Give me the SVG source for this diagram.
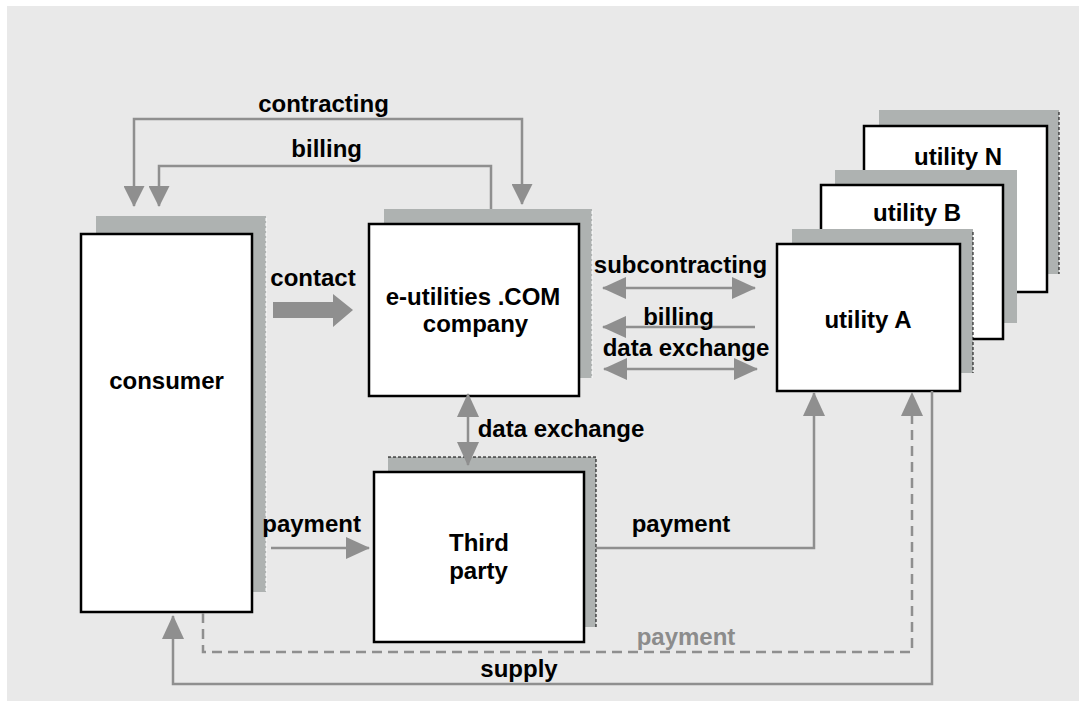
<svg xmlns="http://www.w3.org/2000/svg" width="1079" height="701" viewBox="0 0 1079 701">
<style>
.bg{fill:#e9e9e9}
.sh{fill:#aeb2b1}
.dw{fill:none;stroke:#ffffff;stroke-width:1;stroke-dasharray:3 2}
.db{fill:none;stroke:#000000;stroke-width:1;stroke-dasharray:3 2}
.box{fill:#ffffff;stroke:#000000;stroke-width:2.5}
.t{font-family:"Liberation Sans",Arial,sans-serif;font-weight:bold;font-size:24px;fill:#000000;text-anchor:middle}
.tg{fill:#8c8c8c}
.ln{fill:none;stroke:#8f8f8f;stroke-width:2.5}
.dash{stroke-dasharray:10 6}
</style>
<defs>
<marker id="ah" viewBox="0 0 24 22" refX="23" refY="11" markerWidth="24" markerHeight="22" markerUnits="userSpaceOnUse" orient="auto-start-reverse">
<path d="M0,0 L24,11 L0,22 z" fill="#8f8f8f"/>
</marker>
<marker id="ahs" viewBox="0 0 21 21" refX="20" refY="10.5" markerWidth="21" markerHeight="21" markerUnits="userSpaceOnUse" orient="auto-start-reverse">
<path d="M0,0 L21,10.5 L0,21 z" fill="#8f8f8f"/>
</marker>
</defs>
<rect x="0" y="0" width="1079" height="701" fill="#ffffff"/>
<rect class="bg" x="7" y="6" width="1072" height="695"/>

<g id="utility-N">
<rect class="sh" x="879" y="110" width="180" height="164"/>
<path class="db" d="M1059,112 V274"/>
<rect class="box" x="864" y="126" width="183" height="166"/>
<text class="t" x="958" y="165">utility N</text>
</g>
<g id="utility-B">
<rect class="sh" x="835" y="170" width="182" height="153"/>
<rect class="box" x="821" y="185" width="182" height="154"/>
<text class="t" x="917" y="221">utility B</text>
</g>
<g id="utility-A">
<rect class="sh" x="792" y="229" width="181" height="144"/>
<path class="db" d="M973,232 V373"/>
<rect class="box" x="777" y="244" width="183" height="147"/>
<text class="t" x="868" y="328">utility A</text>
</g>
<g id="consumer">
<rect class="sh" x="96" y="216" width="170" height="376"/>
<path class="dw" d="M266,218 V592"/>
<rect class="box" x="81" y="234" width="171" height="378"/>
<text class="t" x="166.5" y="389">consumer</text>
</g>
<g id="e-utilities">
<rect class="sh" x="384" y="209" width="208" height="169"/>
<path class="dw" d="M592,211 V378"/>
<rect class="box" x="369" y="224" width="210" height="172"/>
<text class="t" x="473" y="305">e-utilities .COM</text>
<text class="t" x="475.5" y="332">company</text>
</g>
<g id="third-party">
<rect class="sh" x="388" y="457" width="208" height="170"/>
<path class="db" d="M388,457 H596 V627"/>
<rect class="box" x="374" y="472" width="210" height="170"/>
<text class="t" x="479" y="551">Third</text>
<text class="t" x="478.5" y="579">party</text>
</g>

<g id="connectors">
<path class="ln" d="M522,204 V119 H134 V206" marker-start="url(#ahs)" marker-end="url(#ahs)"/>
<path class="ln" d="M491,209 V166 H159 V206" marker-end="url(#ahs)"/>
<polygon points="273,302 333,302 333,294 353,310 333,327 333,318 273,318" fill="#8f8f8f"/>
<path class="ln" d="M603,288 H755" marker-start="url(#ah)" marker-end="url(#ah)"/>
<path class="ln" d="M755,327 H603" marker-end="url(#ah)"/>
<path class="ln" d="M604,369 H757" marker-start="url(#ah)" marker-end="url(#ah)"/>
<path class="ln" d="M468,394 V465" marker-start="url(#ah)" marker-end="url(#ah)"/>
<path class="ln" d="M271,548 H369" marker-end="url(#ah)"/>
<path class="ln" d="M596,548 H814 V393" marker-end="url(#ah)"/>
<path class="ln dash" d="M203,613 V652 H912 V393" marker-end="url(#ah)"/>
<path class="ln" d="M932,391 V684 H173 V616" marker-end="url(#ah)"/>
<text class="t" x="323.5" y="112">contracting</text>
<text class="t" x="326.7" y="157">billing</text>
<text class="t" x="313" y="286">contact</text>
<text class="t" x="680.5" y="273">subcontracting</text>
<text class="t" x="678.5" y="325">billing</text>
<text class="t" x="686" y="356">data exchange</text>
<text class="t" x="561" y="437">data exchange</text>
<text class="t" x="311.6" y="532">payment</text>
<text class="t" x="681" y="532">payment</text>
<text class="t tg" x="686" y="645">payment</text>
<text class="t" x="519" y="677">supply</text>
</g>
</svg>
